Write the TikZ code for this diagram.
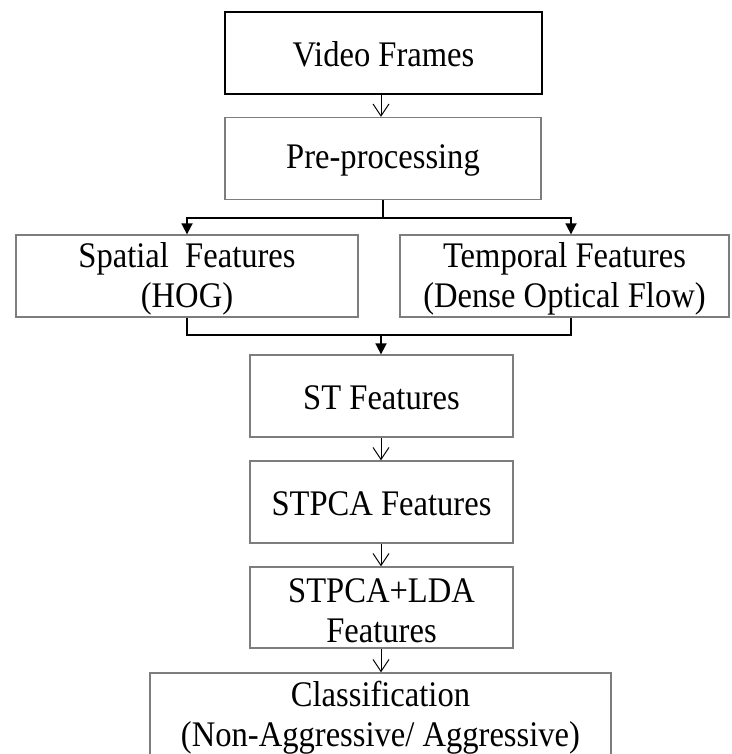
\documentclass[tikz,border=0pt]{standalone}
\usepackage{fontspec}
\setmainfont{Liberation Serif}[FakeStretch=0.905]
\usepackage{tikz}
\usetikzlibrary{arrows.meta}
\usetikzlibrary{positioning}
\definecolor{boxgray}{RGB}{125,125,125}
\newcommand{\topgap}[1]{\rule{0pt}{#1}}
\tikzstyle{stage}=[rectangle, draw=boxgray, line width=1.3pt, align=center,
  inner sep=0pt, minimum height=82pt, font=\fontsize{36}{40}\selectfont]
\tikzstyle{input}=[stage, draw=black, line width=1.6pt]
\tikzstyle{arrstep}=[-{Straight Barb[length=12pt,width=16pt]}, line width=1pt, draw=black]
\tikzstyle{arrjoin}=[-{Triangle[length=11pt,width=11pt]}, line width=1.8pt, draw=black]

\begin{document}
\begin{tikzpicture}[x=1pt, y=-1pt]
\useasboundingbox[fill=white] (0,0) rectangle (731,754);

\node[input, minimum width=317pt] at (383.5,53) (frames) {\topgap{28pt}Video Frames};
\node[stage, minimum width=316pt] at (383,158.5) (preproc) {\topgap{28pt}Pre-processing};
\node[stage, minimum width=342pt] at (187,276) (spatial) {\topgap{31pt}Spatial~~Features\\(HOG)};
\node[stage, minimum width=329pt] at (564.5,276) (temporal) {\topgap{31pt}Temporal Features\\(Dense Optical Flow)};
\node[stage, minimum width=263pt] at (381.5,396) (stfeat) {\topgap{28pt}ST Features};
\node[stage, minimum width=263pt] at (381.5,502) (stpca) {\topgap{28pt}STPCA Features};
\node[stage, minimum width=263pt, minimum height=81pt] at (381.5,607.5) (stpcalda) {\topgap{31pt}STPCA+LDA\\Features};
\node[stage, minimum width=461pt, minimum height=84pt] at (380.5,715) (classify) {\topgap{31pt}Classification\\(Non-Aggressive/ Aggressive)};

% split after pre-processing
\coordinate (split) at (383,218);
\coordinate (merge) at (381,335);
\draw[line width=1.8pt] (preproc.south) -- (split);
\draw[arrjoin] (split) -| (spatial.north);
\draw[arrjoin] (split) -| ([xshift=6.5pt]temporal.north);

% join of both feature streams
\draw[line width=1.8pt] (spatial.south) |- (merge);
\draw[line width=1.8pt] ([xshift=6.5pt]temporal.south) |- (merge);
\draw[arrjoin] (merge) -- (stfeat.north -| merge);

\draw[arrstep] (frames.south -| merge) -- (preproc.north -| merge);
\draw[arrstep] (stfeat.south -| merge) -- (stpca.north -| merge);
\draw[arrstep] (stpca.south -| merge) -- (stpcalda.north -| merge);
\draw[arrstep] (stpcalda.south -| merge) -- (classify.north -| merge);

\end{tikzpicture}
\end{document}
